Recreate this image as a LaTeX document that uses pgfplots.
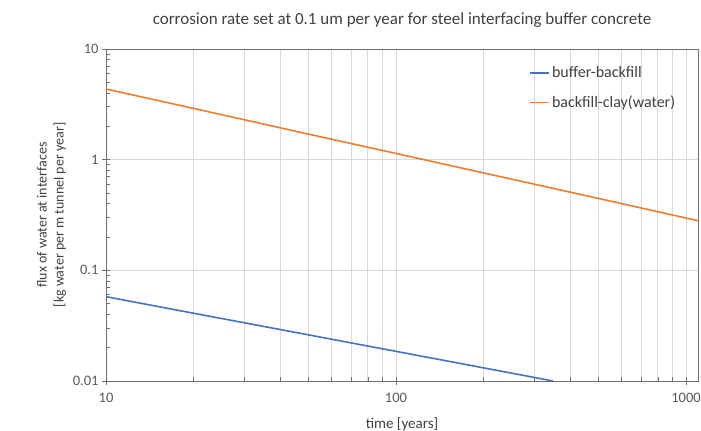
\documentclass[border=0pt]{standalone}
\usepackage{pgfplots}
\pgfplotsset{compat=1.18}
\usepackage{fontspec}
\setmainfont{Carlito}
\definecolor{cblue}{HTML}{4472C4}
\definecolor{corange}{HTML}{ED7D31}
\definecolor{axgray}{HTML}{6F6F6F}
\definecolor{gridgray}{HTML}{D9D9D9}
\definecolor{txt}{HTML}{404040}
\definecolor{ticktxt}{HTML}{595959}
\begin{document}
\begin{tikzpicture}
\begin{axis}[
  xmode=log, ymode=log,
  width=592bp, height=332bp, scale only axis,
  xmin=10, xmax=1100, ymin=0.01, ymax=10,
  xtick={10,100,1000}, xticklabels={10,100,1000},
  ytick={0.01,0.1,1,10}, yticklabels={0.01,0.1,1,10},
  log identify minor tick positions=true,
  xmajorgrids=true, xminorgrids=true, ymajorgrids=true,
  grid style={gridgray, line width=0.9bp},
  major grid style={gridgray, line width=0.9bp},
  minor grid style={gridgray, line width=0.9bp},
  axis line style={axgray, line width=1bp},
  tick style={axgray, line width=0.8bp},
  tick align=inside, xtick pos=bottom, ytick pos=left,
  major tick length=8bp, minor tick length=4bp,
  every major x tick/.append style={yshift=-4bp},
  every major y tick/.append style={xshift=-4bp},
  ticklabel style={font=\fontsize{14.5bp}{16bp}\selectfont, text=ticktxt},
  xticklabel style={yshift=-9bp},
  yticklabel style={xshift=-4bp},
  xlabel={time [years]},
  ylabel={flux of water at interfaces\\{[}kg water per m tunnel per year{]}},
  label style={font=\fontsize{14bp}{17bp}\selectfont, text=txt},
  xlabel style={font=\fontsize{15bp}{17bp}\selectfont, yshift=-8bp},
  ylabel style={align=center},
  title={corrosion rate set at 0.1 um per year for steel interfacing buffer concrete},
  title style={font=\fontsize{17bp}{20bp}\selectfont, text=txt, yshift=12bp},
  legend style={at={(rel axis cs:0.715,0.953)}, anchor=north west, draw=none, fill=none,
    font=\fontsize{16bp}{18bp}\selectfont, text=txt, row sep=12.6bp, inner sep=0pt},
  legend cell align=left,
  legend image code/.code={\draw[#1, line width=1.6bp] (0bp,0bp) -- (19bp,0bp);},
]
\addplot[cblue, line width=1.6bp] coordinates {
 (10,0.0578) (20,0.0410) (50,0.0261) (100,0.01854) (200,0.01316) (348,0.0100)
};
\addlegendentry{buffer-backfill}
\addplot[corange, line width=1.6bp] coordinates {
 (10,4.35) (20,2.91) (50,1.70) (100,1.138) (200,0.760) (500,0.446) (1000,0.297) (1100,0.281)
};
\addlegendentry{backfill-clay(water)}
\end{axis}
\pgfresetboundingbox
\path (current axis.south west) ++(-106bp,-50bp) rectangle ([shift={(3bp,49bp)}]current axis.north east);
\end{tikzpicture}
\end{document}
